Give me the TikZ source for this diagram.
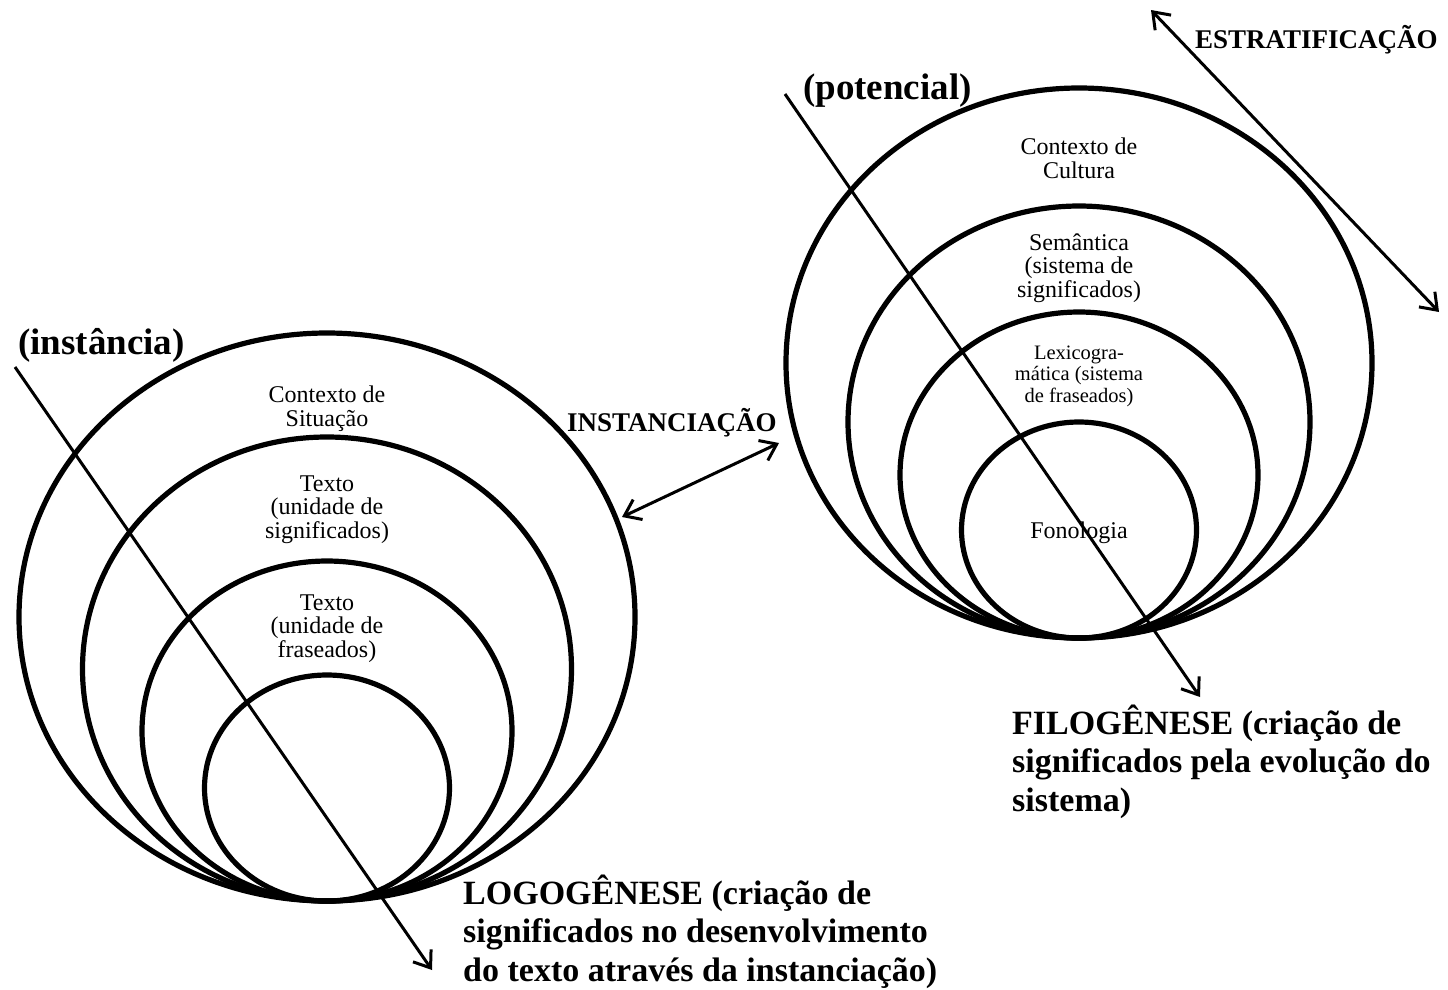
\documentclass[tikz,border=0pt]{standalone}
\usepackage{fontspec}
\setmainfont{Liberation Serif}
\usetikzlibrary{shapes.geometric,arrows.meta}
\begin{document}
\begin{tikzpicture}[x=1pt,y=-1pt,
  barb/.tip={Straight Barb[length=15pt,width=22pt]},
  ring/.style={draw, ellipse, line width=5.2pt, inner sep=0pt, outer sep=0pt},
  axisline/.style={line width=3pt, -barb},
  twoway/.style={line width=3pt, barb-barb},
  % multi-line labels are placed by the baseline of their last line
  lbl/.style={font=\fontsize{24}{23.5}\selectfont, align=center, anchor=base, inner sep=0pt},
  lblsmall/.style={font=\fontsize{20.5}{21.5}\selectfont, align=center, anchor=base, inner sep=0pt},
  pole/.style={font=\fontsize{37}{40}\selectfont\bfseries, anchor=base west, inner sep=0pt},
  process/.style={font=\fontsize{27}{30}\selectfont\bfseries, anchor=base west, inner sep=0pt},
  genesis/.style={font=\fontsize{34}{38.5}\selectfont\bfseries, align=left, anchor=base west, inner sep=0pt},
]
\useasboundingbox (0,0) rectangle (1448,989);

% instance side: nested strata touching at the bottom
\node[ring, minimum width=616pt, minimum height=568pt] (L1) at (327,617) {};
\node[ring, minimum width=489pt, minimum height=464pt] (L2) at (327,669) {};
\node[ring, minimum width=370pt, minimum height=340pt] (L3) at (327,731) {};
\node[ring, minimum width=245pt, minimum height=226pt] (L4) at (327,788) {};

% potential side
\node[ring, minimum width=586pt, minimum height=550pt] (R1) at (1079,363) {};
\node[ring, minimum width=462pt, minimum height=432pt] (R2) at (1079,422) {};
\node[ring, minimum width=358pt, minimum height=326pt] (R3) at (1079,475) {};
\node[ring, minimum width=235pt, minimum height=216pt] (R4) at (1079,530) {};

% stratum labels
\node[lbl] (tcs) at (327,426) {Contexto de\\Situação};
\node[lbl] (tts) at (327,538) {Texto\\(unidade de\\significados)};
\node[lbl] (ttf) at (327,657) {Texto\\(unidade de\\fraseados)};

\node[lbl] (tcc) at (1079,178) {Contexto de\\Cultura};
\node[lbl] (tsem) at (1079,297) {Semântica\\(sistema de\\significados)};
\node[lblsmall] (tlex) at (1079,402) {Lexicogra-\\mática (sistema\\de fraseados)};
\node[lbl] (tfon) at (1079,538) {Fonologia};

% headings
\node[pole] (inst) at (18,354) {(instância)};
\node[pole] (pot) at (803,99) {(potencial)};
\node[process] (instc) at (567,431) {INSTANCIAÇÃO};
\node[process] (estr) at (1195,48) {ESTRATIFICAÇÃO};
\node[genesis] (logo) at (463,981) {LOGOGÊNESE (criação de\\significados no desenvolvimento\\do texto através da instanciação)};
\node[genesis] (filo) at (1012,811) {FILOGÊNESE (criação de\\significados pela evolução do\\sistema)};

% time axes and the two relations
\coordinate (la0) at (15,367);
\coordinate (la1) at (432,970);
\coordinate (ra0) at (785,94);
\coordinate (ra1) at (1200,697);
\coordinate (ia0) at (622,517);
\coordinate (ia1) at (779,443);
\coordinate (ea0) at (1151,10);
\coordinate (ea1) at (1439,312);

\draw[axisline] (la0) -- (la1);
\draw[axisline] (ra0) -- (ra1);
\draw[twoway] (ia0) -- (ia1);
\draw[twoway] (ea0) -- (ea1);
\end{tikzpicture}
\end{document}
